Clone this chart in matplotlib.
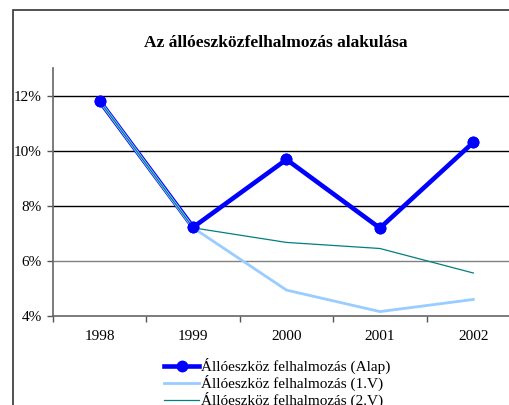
import matplotlib.pyplot as plt
from matplotlib.patches import Rectangle
from matplotlib.ticker import FuncFormatter

years = ['1998', '1999', '2000', '2001', '2002']
alap = [11.8, 7.22, 9.68, 7.19, 10.3]
v1 = [11.8, 7.2, 4.94, 4.16, 4.6]
v2 = [11.8, 7.2, 6.67, 6.45, 5.56]
labels = ['Állóeszköz felhalmozás (Alap)', 'Állóeszköz felhalmozás (1.V)',
          'Állóeszköz felhalmozás (2.V)']

plt.rcParams['font.family'] = ['Liberation Serif', 'DejaVu Serif']

fig = plt.figure(figsize=(5.1, 4.05), dpi=100)
W, H = 510, 405
# outer chart frame (right/bottom edges fall outside the picture)
fig.patches.append(Rectangle((13 / W, -0.2), 1.2, 0.2 + (H - 10) / H,
                             transform=fig.transFigure, fill=False,
                             edgecolor='#333333', lw=1.2))
fig.text(276 / W, 1 - 43 / H, 'Az állóeszközfelhalmozás alakulása',
         ha='center', va='center', fontsize=12.5, fontweight='bold')

ax = fig.add_axes([53 / W, (H - 316) / H, (520 - 53) / W, (316 - 68) / H])
x = range(len(years))
ax.plot(x, alap, color='#0000FF', lw=3.3, marker='o', ms=7.5, zorder=2,
        label=labels[0])
ax.plot(x, v1, color='#99CCFF', lw=2.0, zorder=2.1, label=labels[1])
ax.plot(x, v2, color='#008080', lw=0.9, zorder=2.2, label=labels[2])
ax.plot(x, alap, ls='none', marker='o', ms=7.5, color='#0000FF', zorder=3)

ax.set_xlim(-0.5, 4.5)
ax.set_ylim(4, 13)
ax.set_yticks([4, 6, 8, 10, 12])
ax.yaxis.set_major_formatter(FuncFormatter(lambda v, p: f'{v:.0f}%'))
ax.set_xticks([i + 0.5 for i in range(-1, 5)])
ax.set_xticklabels([])
ax.set_xticks(list(x), minor=True)
ax.set_xticklabels(years, minor=True)
ax.tick_params(axis='x', which='minor', length=0, pad=10, labelsize=11)
ax.tick_params(axis='x', which='major', length=4, width=1, color='#555555')
ax.tick_params(axis='y', length=4, width=1, color='#555555', pad=4,
               labelsize=11)

for v in [6, 8, 10, 12]:
    ax.axhline(v, color='#808080' if v == 6 else 'black', lw=1, zorder=1)

for s in ['top', 'right']:
    ax.spines[s].set_visible(False)
for s in ['left', 'bottom']:
    ax.spines[s].set_color('#666666')
    ax.spines[s].set_linewidth(1.2)

ax.legend(loc='upper left', bbox_to_anchor=(164 / W, 1 - 358 / H),
          bbox_transform=fig.transFigure, frameon=False, fontsize=11,
          handlelength=2.3, handletextpad=0.1, labelspacing=0.05,
          borderpad=0, borderaxespad=0)

fig.savefig('out.png', dpi=100)
